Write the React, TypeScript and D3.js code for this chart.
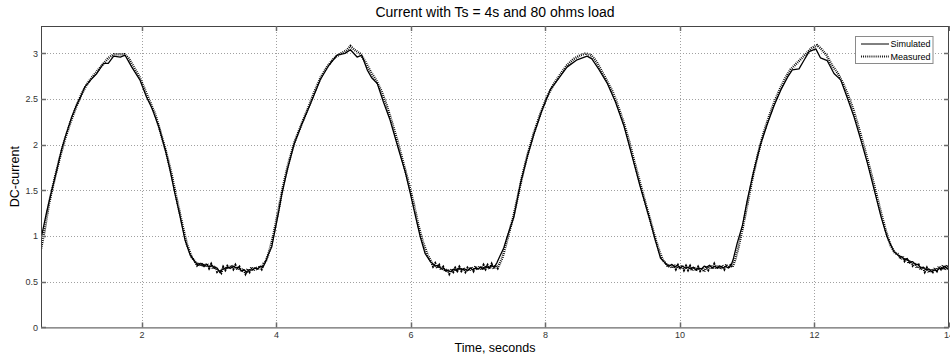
import React from "react";
import * as d3 from "d3";

const title = "Current with Ts = 4s and 80 ohms load";
const xLabel = "Time, seconds";
const yLabel = "DC-current";
const xTicks = [2, 4, 6, 8, 10, 12, 14];
const yTicks = [0, 0.5, 1, 1.5, 2, 2.5, 3];
const xDomain = [0.5, 14];
const yDomain = [0, 3.3];
const legendNames = ["Simulated", "Measured"];

const simulated: [number, number][] = [
  [0.50,0.97],[0.58,1.25],[0.66,1.50],[0.74,1.74],[0.81,1.96],[0.88,2.13],[0.96,2.31],[1.02,2.42],[1.08,2.51],[1.15,2.63],[1.24,2.71],[1.33,2.78],[1.43,2.89],[1.50,2.89],[1.58,2.97],[1.68,2.96],[1.75,2.98],[1.85,2.85],[1.97,2.71],[2.07,2.52],[2.15,2.40],[2.25,2.20],[2.35,1.94],[2.42,1.72],[2.49,1.47],[2.57,1.21],[2.64,0.96],[2.72,0.79],
  [2.80,0.71],[2.84,0.68],[2.88,0.70],[2.92,0.67],[2.96,0.69],[3.00,0.66],[3.04,0.68],[3.08,0.65],[3.12,0.65],[3.16,0.60],[3.20,0.64],[3.24,0.64],[3.28,0.66],[3.32,0.65],[3.36,0.67],[3.40,0.65],[3.44,0.66],[3.48,0.62],[3.52,0.63],[3.56,0.60],[3.60,0.63],[3.64,0.63],[3.68,0.65],[3.72,0.64],[3.76,0.67],[3.80,0.66],[3.84,0.72],
  [3.88,0.80],[3.93,0.88],[3.98,1.07],[4.03,1.25],[4.08,1.46],[4.16,1.72],[4.26,2.00],[4.38,2.23],[4.53,2.49],[4.65,2.71],[4.78,2.87],[4.90,2.98],[5.02,3.00],[5.10,3.04],[5.20,2.96],[5.27,2.98],[5.35,2.82],[5.42,2.73],[5.50,2.67],[5.59,2.47],[5.69,2.27],[5.82,1.94],[5.92,1.69],[5.99,1.47],[6.07,1.21],[6.14,0.99],[6.21,0.81],[6.29,0.72],
  [6.32,0.70],[6.36,0.67],[6.40,0.68],[6.44,0.65],[6.48,0.65],[6.52,0.62],[6.56,0.62],[6.60,0.61],[6.64,0.64],[6.68,0.62],[6.72,0.65],[6.76,0.63],[6.80,0.64],[6.84,0.62],[6.88,0.65],[6.92,0.63],[6.96,0.65],[7.00,0.64],[7.04,0.66],[7.08,0.64],[7.12,0.67],[7.16,0.65],[7.20,0.68],[7.24,0.66],[7.28,0.71],
  [7.31,0.76],[7.38,0.87],[7.43,0.99],[7.48,1.10],[7.53,1.21],[7.63,1.58],[7.73,1.87],[7.83,2.12],[7.95,2.38],[8.07,2.60],[8.20,2.73],[8.32,2.85],[8.47,2.93],[8.62,2.97],[8.69,2.94],[8.79,2.83],[8.92,2.67],[9.04,2.47],[9.17,2.20],[9.29,1.87],[9.41,1.54],[9.54,1.21],[9.64,0.94],[9.71,0.76],
  [9.80,0.69],[9.84,0.67],[9.88,0.69],[9.92,0.66],[9.96,0.68],[10.00,0.65],[10.04,0.67],[10.08,0.65],[10.12,0.66],[10.16,0.64],[10.20,0.66],[10.24,0.63],[10.28,0.65],[10.32,0.64],[10.36,0.67],[10.40,0.66],[10.44,0.68],[10.48,0.65],[10.52,0.67],[10.56,0.65],[10.60,0.67],[10.64,0.65],[10.68,0.67],[10.72,0.65],[10.76,0.68],
  [10.79,0.74],[10.85,0.92],[10.93,1.12],[11.00,1.39],[11.10,1.72],[11.20,2.01],[11.30,2.23],[11.40,2.43],[11.50,2.60],[11.60,2.74],[11.67,2.82],[11.77,2.83],[11.84,2.92],[11.92,3.02],[12.02,3.05],[12.09,2.95],[12.19,2.92],[12.29,2.78],[12.39,2.71],[12.49,2.51],[12.59,2.30],[12.69,2.05],[12.79,1.79],[12.89,1.50],[12.99,1.21],[13.08,0.99],[13.18,0.83],[13.26,0.78],
  [13.30,0.77],[13.34,0.74],[13.38,0.75],[13.42,0.71],[13.46,0.72],[13.50,0.69],[13.54,0.69],[13.58,0.65],[13.62,0.66],[13.66,0.63],[13.70,0.64],[13.74,0.61],[13.78,0.63],[13.82,0.62],[13.86,0.65],[13.90,0.64],[13.94,0.67],[13.98,0.64],[14.00,0.66]
];

const measured: [number, number][] = [
  [0.50,0.86],[0.55,1.05],[0.62,1.36],[0.70,1.62],[0.78,1.86],[0.86,2.07],[0.94,2.25],[1.02,2.41],[1.10,2.55],[1.18,2.66],[1.26,2.74],[1.34,2.81],[1.42,2.88],[1.50,2.95],[1.58,2.99],[1.66,2.99],[1.74,2.99],[1.80,2.95],[1.88,2.85],[1.96,2.75],[2.04,2.61],[2.12,2.47],[2.20,2.33],[2.28,2.13],[2.36,1.92],[2.44,1.68],[2.52,1.40],[2.60,1.13],[2.67,0.91],[2.74,0.77],
  [2.79,0.72],[2.82,0.68],[2.85,0.71],[2.88,0.67],[2.91,0.70],[2.94,0.66],[2.97,0.70],[3.00,0.65],[3.03,0.69],[3.06,0.64],[3.09,0.67],[3.12,0.61],[3.15,0.63],[3.18,0.60],[3.21,0.66],[3.24,0.63],[3.27,0.67],[3.30,0.64],[3.33,0.68],[3.36,0.64],[3.39,0.68],[3.42,0.63],[3.45,0.66],[3.48,0.61],[3.51,0.64],[3.54,0.59],[3.57,0.64],[3.60,0.61],[3.63,0.66],[3.66,0.62],[3.69,0.66],[3.72,0.63],[3.75,0.67],[3.78,0.64],[3.81,0.70],[3.84,0.72],
  [3.88,0.80],[3.93,0.93],[3.98,1.10],[4.04,1.32],[4.10,1.55],[4.18,1.80],[4.27,2.03],[4.36,2.20],[4.46,2.38],[4.56,2.57],[4.66,2.74],[4.76,2.86],[4.86,2.95],[4.96,3.00],[5.04,3.03],[5.10,3.08],[5.16,3.04],[5.24,3.00],[5.32,2.91],[5.40,2.80],[5.48,2.71],[5.56,2.59],[5.64,2.43],[5.72,2.24],[5.80,2.04],[5.88,1.82],[5.96,1.60],[6.04,1.36],[6.11,1.12],[6.18,0.93],[6.25,0.79],
  [6.30,0.72],[6.33,0.67],[6.36,0.70],[6.39,0.65],[6.42,0.68],[6.45,0.63],[6.48,0.66],[6.51,0.61],[6.54,0.64],[6.57,0.59],[6.60,0.64],[6.63,0.61],[6.66,0.65],[6.69,0.62],[6.72,0.66],[6.75,0.62],[6.78,0.65],[6.81,0.61],[6.84,0.65],[6.87,0.62],[6.90,0.66],[6.93,0.62],[6.96,0.67],[6.99,0.63],[7.02,0.67],[7.05,0.63],[7.08,0.68],[7.11,0.64],[7.14,0.68],[7.17,0.64],[7.20,0.69],[7.23,0.64],[7.26,0.68],[7.29,0.65],[7.32,0.70],
  [7.36,0.76],[7.41,0.90],[7.46,1.04],[7.52,1.20],[7.58,1.40],[7.65,1.64],[7.73,1.88],[7.82,2.11],[7.92,2.33],[8.02,2.52],[8.12,2.66],[8.22,2.77],[8.32,2.87],[8.42,2.94],[8.52,2.98],[8.60,3.00],[8.68,2.98],[8.76,2.91],[8.84,2.80],[8.92,2.69],[9.00,2.58],[9.08,2.42],[9.16,2.25],[9.24,2.05],[9.32,1.82],[9.40,1.60],[9.48,1.38],[9.56,1.17],[9.63,0.98],[9.70,0.82],[9.75,0.73],
  [9.79,0.70],[9.82,0.66],[9.85,0.69],[9.88,0.65],[9.91,0.69],[9.94,0.64],[9.97,0.68],[10.00,0.64],[10.03,0.68],[10.06,0.63],[10.09,0.67],[10.12,0.63],[10.15,0.67],[10.18,0.62],[10.21,0.66],[10.24,0.62],[10.27,0.66],[10.30,0.62],[10.33,0.65],[10.36,0.61],[10.39,0.66],[10.42,0.63],[10.45,0.68],[10.48,0.64],[10.51,0.69],[10.54,0.64],[10.57,0.68],[10.60,0.64],[10.63,0.68],[10.66,0.64],[10.69,0.69],[10.72,0.65],[10.75,0.68],[10.78,0.66],
  [10.82,0.74],[10.87,0.88],[10.93,1.08],[11.00,1.34],[11.08,1.64],[11.16,1.90],[11.24,2.12],[11.32,2.30],[11.40,2.46],[11.48,2.60],[11.56,2.72],[11.64,2.82],[11.72,2.88],[11.80,2.94],[11.88,3.00],[11.96,3.06],[12.04,3.09],[12.10,3.05],[12.18,2.98],[12.26,2.87],[12.34,2.79],[12.42,2.68],[12.50,2.54],[12.58,2.38],[12.66,2.18],[12.74,1.97],[12.82,1.75],[12.90,1.52],[12.98,1.28],[13.06,1.06],[13.13,0.90],[13.20,0.81],
  [13.25,0.80],[13.28,0.75],[13.31,0.78],[13.34,0.73],[13.37,0.76],[13.40,0.70],[13.43,0.73],[13.46,0.68],[13.49,0.71],[13.52,0.65],[13.55,0.68],[13.58,0.63],[13.61,0.66],[13.64,0.61],[13.67,0.65],[13.70,0.60],[13.73,0.64],[13.76,0.61],[13.79,0.65],[13.82,0.62],[13.85,0.67],[13.88,0.64],[13.91,0.68],[13.94,0.63],[13.97,0.68],[14.00,0.65]
];

const W = 950;
const H = 360;
const M = { left: 41, right: 949, top: 26, bottom: 327.4 };
const FONT = "'Liberation Sans', Arial, Helvetica, sans-serif";

export default function App() {
  const x = d3.scaleLinear().domain(xDomain).range([M.left, M.right]);
  const y = d3.scaleLinear().domain(yDomain).range([M.bottom, M.top]);
  const line = d3
    .line<[number, number]>()
    .x((d) => x(d[0]))
    .y((d) => y(d[1]));
  const axisColor = "#454545";
  const tickColor = "#6a6a6a";
  const gridColor = "#a0a0a0";
  const tickLen = 5;
  const legX = 855.5;
  const legY = 36.5;
  return (
    <svg
      width={W}
      height={H}
      style={{ position: "absolute", left: 0, top: 0, background: "#fff" }}
      fontFamily={FONT}
    >
      <rect x={0} y={0} width={W} height={H} fill="#fff" />
      <text x={(M.left + M.right) / 2} y={17} textAnchor="middle" fontSize={14} fill="#000">
        {title}
      </text>
      <defs>
        <clipPath id="plot">
          <rect x={M.left} y={M.top} width={M.right - M.left} height={M.bottom - M.top} />
        </clipPath>
      </defs>
      {/* grid */}
      {xTicks
        .filter((t) => x(t) > M.left + 1 && x(t) < M.right - 1)
        .map((t) => (
          <line
            key={"gx" + t}
            x1={Math.round(x(t)) + 0.5}
            x2={Math.round(x(t)) + 0.5}
            y1={M.top}
            y2={M.bottom}
            stroke={gridColor}
            strokeWidth={1}
            strokeDasharray="1,2"
          />
        ))}
      {yTicks
        .filter((t) => y(t) < M.bottom - 1 && y(t) > M.top + 1)
        .map((t) => (
          <line
            key={"gy" + t}
            x1={M.left}
            x2={M.right}
            y1={Math.round(y(t)) + 0.5}
            y2={Math.round(y(t)) + 0.5}
            stroke={gridColor}
            strokeWidth={1}
            strokeDasharray="1,2"
          />
        ))}
      {/* data */}
      <g clipPath="url(#plot)">
        <path d={line(measured) || ""} fill="none" stroke="#000" strokeWidth={2.5} strokeDasharray="0.9,1.1" />
        <path d={line(simulated) || ""} fill="none" stroke="#000" strokeWidth={1.3} strokeLinejoin="round" />
      </g>
      {/* axes box */}
      <rect
        x={M.left + 0.5}
        y={M.top + 0.5}
        width={M.right - M.left - 1}
        height={M.bottom - M.top}
        fill="none"
        stroke={axisColor}
        strokeWidth={1}
      />
      {/* ticks */}
      {xTicks.map((t) => (
        <g key={"tx" + t}>
          <line x1={Math.round(x(t)) + 0.5} x2={Math.round(x(t)) + 0.5} y1={M.bottom} y2={M.bottom - tickLen} stroke={tickColor} strokeWidth={1.5} />
          <line x1={Math.round(x(t)) + 0.5} x2={Math.round(x(t)) + 0.5} y1={M.top} y2={M.top + tickLen} stroke={tickColor} strokeWidth={1.5} />
          <text x={x(t)} y={338} textAnchor="middle" fontSize={9} fill="#333">
            {t}
          </text>
        </g>
      ))}
      {yTicks.map((t) => (
        <g key={"ty" + t}>
          <line x1={M.left} x2={M.left + tickLen} y1={Math.round(y(t)) + 0.5} y2={Math.round(y(t)) + 0.5} stroke={tickColor} strokeWidth={1.5} />
          <line x1={M.right} x2={M.right - tickLen} y1={Math.round(y(t)) + 0.5} y2={Math.round(y(t)) + 0.5} stroke={tickColor} strokeWidth={1.5} />
          <text x={38} y={y(t) + 3.3} textAnchor="end" fontSize={9} fill="#333">
            {t}
          </text>
        </g>
      ))}
      <text x={(M.left + M.right) / 2} y={352} textAnchor="middle" fontSize={12.5} fill="#000">
        {xLabel}
      </text>
      <text
        transform={`translate(19,${(M.top + M.bottom) / 2}) rotate(-90)`}
        textAnchor="middle"
        fontSize={12.5}
        fill="#000"
      >
        {yLabel}
      </text>
      {/* legend */}
      <rect x={legX} y={legY} width={77.5} height={27} fill="#fff" stroke="#8a8a8a" strokeWidth={1} />
      <line x1={861} x2={889} y1={44} y2={44} stroke="#000" strokeWidth={1} />
      <line x1={861} x2={889} y1={56.5} y2={56.5} stroke="#000" strokeWidth={2.2} strokeDasharray="0.9,1.2" />
      <text x={890.5} y={47} fontSize={9} fill="#000">
        {legendNames[0]}
      </text>
      <text x={890.5} y={59.5} fontSize={9} fill="#000">
        {legendNames[1]}
      </text>
    </svg>
  );
}
